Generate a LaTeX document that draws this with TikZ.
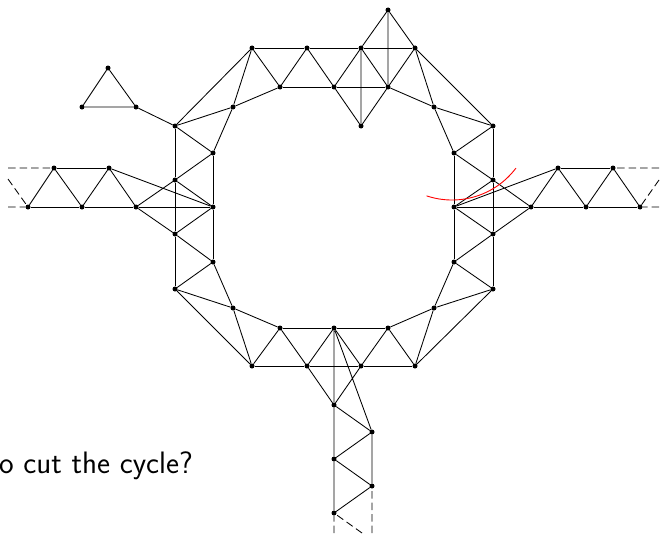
\documentclass[tikz,border=0pt]{standalone}
\tikzset{
  vtx/.style={circle,fill=black,inner sep=0pt,minimum size=5pt},
  edge/.style={line width=0.85pt},
  dashedge/.style={line width=0.85pt,dash pattern=on 7.5pt off 4pt},
  cutarc/.style={red,line width=0.9pt}
}
\begin{document}
\begin{tikzpicture}[x=1pt,y=-1pt]
\useasboundingbox (0,0) rectangle (660,535);
% top side
\node[vtx] (T1) at (252,48) {};
\node[vtx] (T2) at (307,48) {};
\node[vtx] (T3) at (361,48) {};
\node[vtx] (T4) at (415,48) {};
\node[vtx] (t1) at (280,87) {};
\node[vtx] (t2) at (334,87) {};
\node[vtx] (t3) at (388,87) {};
\node[vtx] (P) at (388,10) {};
\node[vtx] (Q) at (361,126) {};
\node[vtx] (a) at (233,107) {};
\node[vtx] (b) at (434,107) {};
% left column
\node[vtx] (L1) at (175,126) {};
\node[vtx] (L2) at (175,180) {};
\node[vtx] (L3) at (175,234) {};
\node[vtx] (L4) at (175,289) {};
\node[vtx] (l1) at (213,153) {};
\node[vtx] (l2) at (213,207) {};
\node[vtx] (l3) at (213,262) {};
% right column
\node[vtx] (R1) at (493,126) {};
\node[vtx] (R2) at (493,180) {};
\node[vtx] (R3) at (493,234) {};
\node[vtx] (R4) at (493,289) {};
\node[vtx] (r1) at (454,153) {};
\node[vtx] (r2) at (454,207) {};
\node[vtx] (r3) at (454,262) {};
% bottom side
\node[vtx] (c) at (233,308) {};
\node[vtx] (d) at (434,308) {};
\node[vtx] (B1) at (252,366) {};
\node[vtx] (B2) at (307,366) {};
\node[vtx] (B3) at (361,366) {};
\node[vtx] (B4) at (415,366) {};
\node[vtx] (b1) at (280,328) {};
\node[vtx] (b2) at (334,328) {};
\node[vtx] (b3) at (388,328) {};
% bottom strip
\node[vtx] (S1) at (334,405) {};
\node[vtx] (S2) at (372,432) {};
\node[vtx] (S3) at (334,459) {};
\node[vtx] (S4) at (372,486) {};
\node[vtx] (S5) at (334,513) {};
% left triangle
\node[vtx] (K1) at (108,68) {};
\node[vtx] (K2) at (82,107) {};
\node[vtx] (K3) at (136,107) {};
% left strip
\node[vtx] (H1) at (28,207) {};
\node[vtx] (H2) at (82,207) {};
\node[vtx] (H3) at (136,207) {};
\node[vtx] (h1) at (54,168) {};
\node[vtx] (h2) at (109,168) {};
% right strip
\node[vtx] (G1) at (531,207) {};
\node[vtx] (G2) at (586,207) {};
\node[vtx] (G3) at (640,207) {};
\node[vtx] (g1) at (558,168) {};
\node[vtx] (g2) at (613,168) {};
% free ends of dashed lines
\coordinate (e1) at (8,168);
\coordinate (e2) at (8,207);
\coordinate (e3) at (8,179);
\coordinate (f1) at (659,168);
\coordinate (f2) at (659,207);
\coordinate (f3) at (659,180);
\coordinate (v1) at (334,533);
\coordinate (v2) at (372,533);
\coordinate (v3) at (362,533);

\begin{scope}[edge]
% top
\draw (T1)--(T2) (T2)--(T3) (T3)--(T4) (t1)--(t2) (t2)--(t3);
\draw (T1)--(t1) (t1)--(T2) (T2)--(t2) (t2)--(T3) (T3)--(t3) (t3)--(T4);
\draw (T3)--(P) (P)--(T4) (P)--(t3) (T3)--(Q) (t2)--(Q) (Q)--(t3);
% top left / top right
\draw (L1)--(T1) (L1)--(a) (a)--(T1) (a)--(t1) (a)--(l1);
\draw (T4)--(R1) (b)--(T4) (b)--(R1) (b)--(t3) (b)--(r1);
% left column
\draw (L1)--(L2) (L2)--(L3) (L3)--(L4) (l1)--(l2) (l2)--(l3);
\draw (L1)--(l1) (l1)--(L2) (L2)--(l2) (l2)--(L3) (L3)--(l3) (l3)--(L4);
% right column
\draw (R1)--(R2) (R2)--(R3) (R3)--(R4) (r1)--(r2) (r2)--(r3);
\draw (R1)--(r1) (r1)--(R2) (R2)--(r2) (r2)--(R3) (R3)--(r3) (r3)--(R4);
% bottom left / bottom right
\draw (L4)--(B1) (c)--(L4) (c)--(B1) (c)--(b1) (c)--(l3);
\draw (R4)--(B4) (d)--(R4) (d)--(B4) (d)--(b3) (d)--(r3);
% bottom
\draw (B1)--(B2) (B2)--(B3) (B3)--(B4) (b1)--(b2) (b2)--(b3);
\draw (B1)--(b1) (b1)--(B2) (B2)--(b2) (b2)--(B3) (B3)--(b3) (b3)--(B4);
% bottom strip
\draw (b2)--(S1) (S1)--(S3) (S3)--(S5) (B2)--(S1) (B3)--(S1) (b2)--(S2);
\draw (S1)--(S2) (S2)--(S4) (S2)--(S3) (S3)--(S4) (S4)--(S5);
% left triangle
\draw (K1)--(K2) (K2)--(K3) (K3)--(K1) (K3)--(L1);
% left strip
\draw (H1)--(H2) (H2)--(H3) (H3)--(l2) (h1)--(h2);
\draw (H1)--(h1) (h1)--(H2) (H2)--(h2) (h2)--(H3) (h2)--(l2) (H3)--(L2) (H3)--(L3);
% right strip
\draw (r2)--(G1) (G1)--(G2) (G2)--(G3) (g1)--(g2);
\draw (G1)--(g1) (g1)--(G2) (G2)--(g2) (g2)--(G3) (r2)--(g1) (G1)--(R2) (G1)--(R3);
\end{scope}
% dashed continuations
\draw[dashedge] (e1)--(h1) (e2)--(H1) (e3)--(H1);
\draw[dashedge] (f1)--(g2) (f2)--(G3) (f3)--(G3);
\draw[dashedge] (v1)--(S5) (v2)--(S4) (v3)--(S5);
% red cut
\draw[cutarc] plot[domain=37:108.5,samples=40,smooth] ({452+80*cos(\x)},{120+80*sin(\x)});
% text
\node[anchor=base west,inner sep=0pt,font=\sffamily\fontsize{31}{36}\selectfont] (q) at (-1,473) {o cut the cycle?};
\end{tikzpicture}
\end{document}
